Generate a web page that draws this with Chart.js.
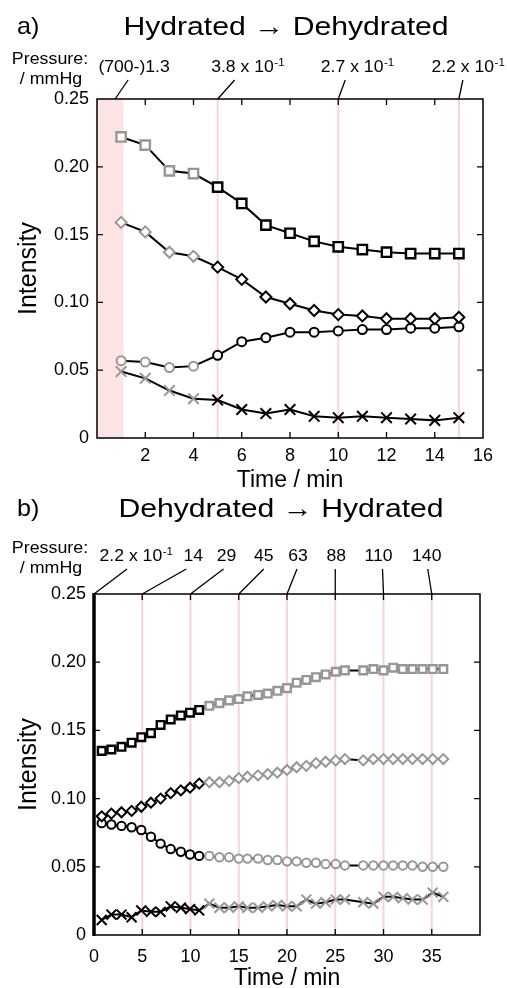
<!DOCTYPE html>
<html>
<head>
<meta charset="utf-8">
<script src="https://cdn.jsdelivr.net/npm/chart.js@4/dist/chart.umd.min.js"></script>
<style>
html, body { margin: 0; padding: 0; background: #fff; }
.box { position: relative; width: 507px; height: 494px; }
</style>
</head>
<body>
<div class="box"><canvas id="chartA"></canvas></div>
<div class="box"><canvas id="chartB"></canvas></div>
<script>
// a) Hydrated -> Dehydrated
const timeA = [1, 2, 3, 4, 5, 6, 7, 8, 9, 10, 11, 12, 13, 14, 15];
const squareA = [0.222, 0.216, 0.197, 0.195, 0.185, 0.173, 0.157, 0.151, 0.145, 0.141, 0.139, 0.137, 0.136, 0.136, 0.136];
const diamondA = [0.159, 0.152, 0.137, 0.134, 0.126, 0.117, 0.104, 0.099, 0.094, 0.091, 0.090, 0.088, 0.088, 0.088, 0.089];
const circleA = [0.057, 0.056, 0.052, 0.053, 0.061, 0.071, 0.074, 0.078, 0.078, 0.079, 0.080, 0.080, 0.081, 0.081, 0.082];
const crossA = [0.049, 0.044, 0.035, 0.029, 0.028, 0.021, 0.018, 0.021, 0.016, 0.015, 0.016, 0.015, 0.014, 0.013, 0.015];
const greyCountA = 4;
const pressureA = ['(700-)1.3', '3.8 x 10^-1', '2.7 x 10^-1', '2.2 x 10^-1'];
const pressureTimeA = [0.75, 5, 10, 15];
const bandA = [0, 1.1];
const changeA = [5, 10, 15];

// b) Dehydrated -> Hydrated
const timeB = [0.8, 1.8, 2.85, 3.9, 4.9, 5.9, 6.9, 7.95, 9.0, 9.95, 10.9, 11.95, 13.0, 14.0, 15.0, 15.9, 17.0, 18.0,
  19.0, 20.0, 21.0, 22.0, 23.0, 24.0, 25.05, 26.0, 27.9, 28.95, 30.0, 31.0, 32.0, 33.0, 34.05, 35.1, 36.2];
const squareB = [0.135, 0.136, 0.138, 0.141, 0.145, 0.148, 0.154, 0.158, 0.161, 0.163, 0.165, 0.168, 0.170, 0.172, 0.173, 0.175, 0.176, 0.177,
  0.179, 0.181, 0.185, 0.187, 0.189, 0.191, 0.193, 0.194, 0.194, 0.195, 0.194, 0.196, 0.195, 0.195, 0.195, 0.195, 0.195];
const diamondB = [0.087, 0.089, 0.090, 0.091, 0.094, 0.097, 0.100, 0.104, 0.106, 0.108, 0.111, 0.112, 0.112, 0.113, 0.115, 0.116, 0.117, 0.118,
  0.119, 0.121, 0.123, 0.124, 0.126, 0.127, 0.128, 0.129, 0.128, 0.129, 0.129, 0.129, 0.129, 0.129, 0.129, 0.129, 0.129];
const circleB = [0.082, 0.081, 0.080, 0.079, 0.077, 0.072, 0.067, 0.063, 0.061, 0.059, 0.058, 0.058, 0.057, 0.057, 0.056, 0.056, 0.056, 0.055,
  0.055, 0.054, 0.054, 0.053, 0.053, 0.052, 0.052, 0.051, 0.051, 0.051, 0.051, 0.051, 0.051, 0.051, 0.050, 0.050, 0.050];
const crossB = [0.011, 0.015, 0.015, 0.013, 0.018, 0.017, 0.017, 0.021, 0.020, 0.019, 0.018, 0.023, 0.020, 0.020, 0.021, 0.020, 0.020, 0.021,
  0.022, 0.021, 0.021, 0.026, 0.023, 0.024, 0.026, 0.026, 0.024, 0.023, 0.028, 0.028, 0.027, 0.026, 0.026, 0.031, 0.028];
const greyFromB = 11;
const pressureB = ['2.2 x 10^-1', '14', '29', '45', '63', '88', '110', '140'];
const pressureTimeB = [0, 5, 10, 15, 20, 25, 30, 35];
const changeB = [5, 10, 15, 20, 25, 30, 35];

const GREY = '#979797';
const FONT = '"Liberation Sans", Arial, sans-serif';

function txt(ctx, s, x, y, size, align, sx) {
  ctx.save();
  ctx.font = size + 'px ' + FONT;
  ctx.fillStyle = '#000';
  ctx.textBaseline = 'alphabetic';
  ctx.textAlign = 'left';
  const w = ctx.measureText(s).width * sx;
  const x0 = align === 'center' ? x - w / 2 : (align === 'right' ? x - w : x);
  ctx.translate(x0, y);
  ctx.scale(sx, 1);
  ctx.fillText(s, 0, 0);
  ctx.restore();
  return w;
}

function measure(ctx, s, size, sx) {
  ctx.save();
  ctx.font = size + 'px ' + FONT;
  const w = ctx.measureText(s).width * sx;
  ctx.restore();
  return w;
}

// label with optional superscript, written as "base^sup"
function pressureText(ctx, s, cx, y) {
  const parts = s.split('^');
  const w0 = measure(ctx, parts[0], 16, 1.1);
  const w1 = parts[1] ? measure(ctx, parts[1], 10.5, 1.1) : 0;
  const x0 = cx - (w0 + w1) / 2;
  txt(ctx, parts[0], x0, y, 16, 'left', 1.1);
  if (parts[1]) txt(ctx, parts[1], x0 + w0 + 0.5, y - 6, 10.5, 'left', 1.1);
}

const decor = {
  id: 'decor',
  beforeDatasetsDraw(chart, args, o) {
    const { ctx, chartArea: a } = chart;
    const x = chart.scales.x;
    ctx.save();
    if (o.band) {
      const x0 = x.getPixelForValue(o.band[0]);
      const x1 = x.getPixelForValue(o.band[1]);
      ctx.fillStyle = '#fde4e4';
      ctx.fillRect(x0, a.top, x1 - x0, a.bottom - a.top);
    }
    ctx.strokeStyle = '#fad4d4';
    ctx.lineWidth = 2;
    o.lines.forEach(t => {
      const p = x.getPixelForValue(t);
      ctx.beginPath();
      ctx.moveTo(p, a.top);
      ctx.lineTo(p, a.bottom);
      ctx.stroke();
    });
    ctx.restore();
  },
  afterDraw(chart, args, o) {
    const { ctx, chartArea: a } = chart;
    const x = chart.scales.x, y = chart.scales.y;
    ctx.save();
    // frame with inner ticks
    ctx.strokeStyle = '#000';
    ctx.lineWidth = 1.5;
    ctx.strokeRect(a.left, a.top, a.right - a.left, a.bottom - a.top);
    if (o.thickLeft) {
      ctx.lineWidth = 3.5;
      ctx.beginPath();
      ctx.moveTo(a.left, a.top - 1);
      ctx.lineTo(a.left, a.bottom + 1);
      ctx.stroke();
    }
    ctx.lineWidth = 1.3;
    ctx.beginPath();
    x.ticks.forEach(t => {
      if (t.value <= x.min || t.value >= x.max) return;
      const p = x.getPixelForValue(t.value);
      ctx.moveTo(p, a.bottom); ctx.lineTo(p, a.bottom - 6);
      ctx.moveTo(p, a.top); ctx.lineTo(p, a.top + 6);
    });
    y.ticks.forEach(t => {
      if (t.value <= y.min || t.value >= y.max) return;
      const p = y.getPixelForValue(t.value);
      ctx.moveTo(a.left, p); ctx.lineTo(a.left + 6, p);
      ctx.moveTo(a.right, p); ctx.lineTo(a.right - 6, p);
    });
    ctx.stroke();

    // titles
    txt(ctx, o.tag, 17, o.titleY - 1, 24, 'left', 1.05);
    txt(ctx, o.title, o.titleX, o.titleY, 26, 'center', 1.16);
    txt(ctx, 'Pressure:', 50, o.pressY, 16.5, 'center', 1.08);
    txt(ctx, '/ mmHg', 51, o.pressY + 20, 16.5, 'center', 1.08);

    // pressure labels with leader lines
    ctx.lineWidth = 1.3;
    ctx.strokeStyle = '#000';
    o.labels.forEach((s, i) => {
      const p = x.getPixelForValue(o.times[i]);
      pressureText(ctx, s, p + o.labelDx[i], o.pressY + 8);
      ctx.beginPath();
      ctx.moveTo(p + o.leadDx[i], o.pressY + 16);
      ctx.lineTo(p, a.top);
      ctx.stroke();
    });
    ctx.restore();
  }
};

function series(times, values, style, radius, isGrey) {
  return {
    data: times.map((t, i) => ({ x: t, y: values[i] })),
    showLine: true,
    borderColor: '#000',
    borderWidth: 2,
    pointStyle: style,
    pointRadius: radius,
    pointHoverRadius: radius,
    pointBorderWidth: style === 'rect' ? 2.4 : 2,
    pointBackgroundColor: '#fff',
    pointBorderColor: c => isGrey(c.dataIndex) ? GREY : '#000',
    clip: false
  };
}

function axes(xMax, xStep, xPad, xHeight, yWidth, titleDrop) {
  return {
    x: {
      type: 'linear', min: 0, max: xMax,
      grid: { display: false, drawTicks: false },
      border: { display: false },
      ticks: {
        stepSize: xStep, padding: xPad, color: '#000',
        font: { family: FONT, size: 18 },
        callback: v => (v === 0 && xMax === 16) || v === 40 ? '' : v
      },
      title: { display: true, text: 'Time / min', color: '#000', font: { family: FONT, size: 23 }, padding: { top: 0, bottom: -titleDrop } },
      afterFit: s => { s.height = xHeight; }
    },
    y: {
      min: 0, max: 0.25,
      grid: { display: false, drawTicks: false },
      border: { display: false },
      ticks: {
        stepSize: 0.05, padding: 8, color: '#000',
        font: { family: FONT, size: 18 },
        callback: v => v === 0 ? '0' : v.toFixed(2)
      },
      title: { display: true, text: 'Intensity', color: '#000', font: { family: FONT, size: 25 }, padding: { top: 14, bottom: 0 } },
      afterFit: s => { s.width = yWidth; }
    }
  };
}

Chart.defaults.animation = false;

new Chart(document.getElementById('chartA'), {
  type: 'scatter',
  data: {
    datasets: [
      series(timeA, squareA, 'rect', 6.6, i => i < greyCountA),
      series(timeA, diamondA, 'rectRot', 5.5, i => i < greyCountA),
      series(timeA, circleA, 'circle', 4.5, i => i < greyCountA),
      series(timeA, crossA, 'crossRot', 7.5, i => i < greyCountA)
    ]
  },
  options: {
    responsive: true,
    maintainAspectRatio: false,
    layout: { padding: { top: 99, right: 24, left: 0, bottom: 0 } },
    plugins: {
      legend: { display: false },
      tooltip: { enabled: false },
      decor: {
        band: bandA, lines: changeA, tag: 'a)', title: 'Hydrated \u2192 Dehydrated',
        titleX: 286, titleY: 35, pressY: 64,
        labels: pressureA, times: pressureTimeA,
        labelDx: [19, 30, 19, 9], leadDx: [13, 17, 7, 4]
      }
    },
    scales: axes(16, 2, 7, 56, 97, 0)
  },
  plugins: [decor]
});

new Chart(document.getElementById('chartB'), {
  type: 'scatter',
  data: {
    datasets: [
      series(timeB, squareB, 'rect', 5.4, i => i >= greyFromB),
      series(timeB, diamondB, 'rectRot', 5, i => i >= greyFromB),
      series(timeB, circleB, 'circle', 4.2, i => i >= greyFromB),
      series(timeB, crossB, 'crossRot', 7, i => i >= greyFromB)
    ]
  },
  options: {
    responsive: true,
    maintainAspectRatio: false,
    layout: { padding: { top: 100, right: 27, left: 0, bottom: 0 } },
    plugins: {
      legend: { display: false },
      tooltip: { enabled: false },
      decor: {
        band: null, lines: changeB, thickLeft: true, tag: 'b)', title: 'Dehydrated \u2192 Hydrated',
        titleX: 281, titleY: 23, pressY: 59,
        labels: pressureB, times: pressureTimeB,
        labelDx: [42, 51, 36, 25, 11, 1, -5, -5], leadDx: [33, 44, 33, 25, 10, 0, -1, -4]
      }
    },
    scales: axes(40, 5, 11, 53, 94, 4)
  },
  plugins: [decor]
});
</script>
</body>
</html>
